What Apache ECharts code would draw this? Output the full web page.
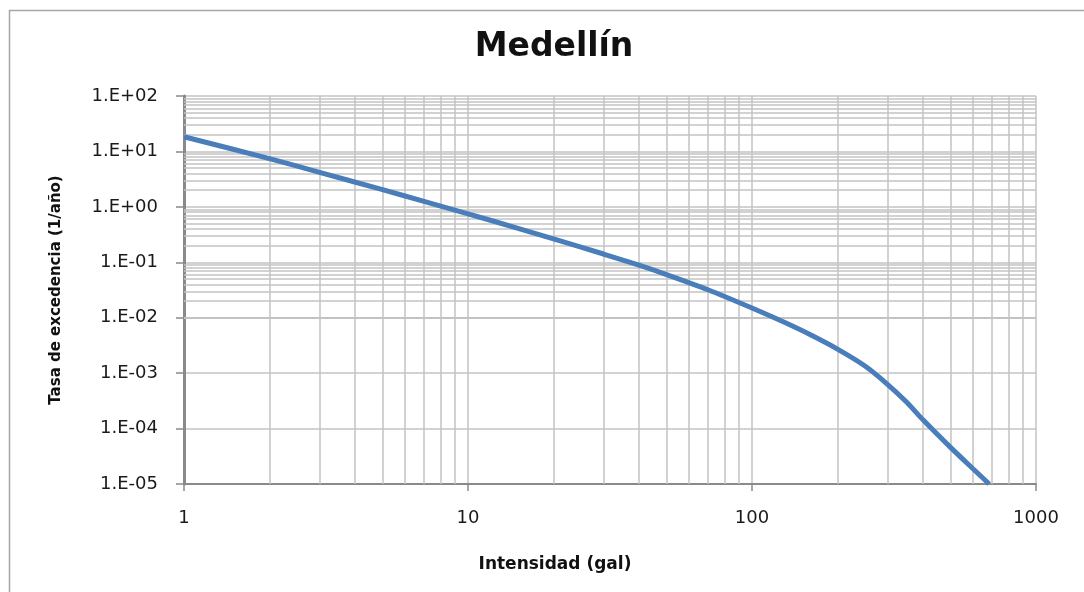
<!DOCTYPE html>
<html>
<head>
<meta charset="utf-8">
<script src="https://cdn.jsdelivr.net/npm/echarts@6/dist/echarts.min.js"></script>
<style>html,body{margin:0;padding:0;background:#fff}#c{width:1084px;height:592px}</style>
</head>
<body>
<div id="c"></div>
<script>
// Data (hazard curve)
const intensity = [1, 2, 3, 5, 7, 10, 15, 20, 30, 40, 50, 70, 100, 130, 160, 200, 250, 300, 350, 400, 500, 600, 684];
const rate = [18.4, 7.4, 4.2, 2.04, 1.256, 0.75, 0.41, 0.265, 0.141, 0.0885, 0.0600, 0.032, 0.01496, 0.00827, 0.00498, 0.00272, 0.001346, 0.00063, 0.000301, 0.000144, 0.0000458, 0.0000188, 0.00001];
const titleText = 'Medellín';
const xName = 'Intensidad (gal)';
const yName = 'Tasa de excedencia (1/año)';
const xMin = 1, xMax = 1000;
const yMin = 1e-5, yMax = 100;
const minorMultiples = [2, 3, 4, 5, 6, 7, 8, 9];

const FONT = 'DejaVu Sans';
const gridColor = '#c3c3c3';

// minor grid values (2..9 times each decade)
const xMinor = [];
for (let e = 0; e < 3; e++) minorMultiples.forEach(m => xMinor.push(Number((m * Math.pow(10, e)).toPrecision(3))));
const yMinor = [];
for (let e = -5; e < 2; e++) minorMultiples.forEach(m => yMinor.push(Number((m * Math.pow(10, e)).toPrecision(3))));

function fmtExp(v) {
  const e = Math.round(Math.log10(v));
  const s = e < 0 ? '-' : '+';
  const a = Math.abs(e);
  return '1.E' + s + (a < 10 ? '0' + a : '' + a);
}

const chart = echarts.init(document.getElementById('c'), null, {renderer: 'canvas'});
chart.setOption({
  animation: false,
  backgroundColor: '#ffffff',
  graphic: [{
    type: 'rect', left: 7, top: 8, shape: {width: 1200, height: 700},
    style: {fill: 'none', stroke: '#a6a6a6', lineWidth: 1.5}, silent: true, z: -10
  }],
  title: [{
    text: titleText, left: 549, top: 26, textAlign: 'center',
    textStyle: {fontFamily: FONT, fontSize: 33, fontWeight: 'bold', color: '#111'}
  }, {
    text: xName, left: 550, top: 551, textAlign: 'center',
    textStyle: {fontFamily: FONT, fontSize: 17, fontWeight: 'bold', color: '#111'}
  }],
  grid: {left: 184, right: 48, top: 96, bottom: 108, containLabel: false},
  xAxis: {
    type: 'log', logBase: 10, min: xMin, max: xMax, splitNumber: 3,
    axisLine: {show: true, lineStyle: {color: '#8a8a8a', width: 2}},
    axisTick: {show: true, length: 7, lineStyle: {color: '#8a8a8a', width: 1.5}},
    axisLabel: {fontFamily: FONT, fontSize: 18, color: '#1a1a1a', margin: 25, formatter: v => String(Math.round(v))},
    splitLine: {show: true, lineStyle: {color: gridColor, width: 1.5}},
    minorTick: {show: false}, minorSplitLine: {show: false}
  },
  yAxis: {
    type: 'log', logBase: 10, min: yMin, max: yMax, splitNumber: 7,
    name: yName, nameLocation: 'middle', nameGap: 120, nameRotate: 90,
    nameTextStyle: {fontFamily: FONT, fontSize: 15, fontWeight: 'bold', color: '#111'},
    axisLine: {show: true, lineStyle: {color: '#8a8a8a', width: 3}},
    axisTick: {show: true, length: 8, lineStyle: {color: '#8a8a8a', width: 1.5}},
    axisLabel: {fontFamily: FONT, fontSize: 18, color: '#1a1a1a', margin: 26, formatter: fmtExp},
    splitLine: {show: true, lineStyle: {color: gridColor, width: 1.5}},
    minorTick: {show: false}, minorSplitLine: {show: false}
  },
  series: [{
    type: 'line', data: [], z: 1, silent: true,
    markLine: {
      silent: true, symbol: 'none', animation: false,
      label: {show: false},
      lineStyle: {type: 'solid', color: gridColor, width: 1.5},
      emphasis: {disabled: true},
      data: xMinor.map(v => ({xAxis: v})).concat(yMinor.map(v => ({yAxis: v})))
    }
  }, {
    type: 'line', z: 5,
    data: intensity.map((x, i) => [x, rate[i]]),
    smooth: 0.25, showSymbol: false, symbol: 'none',
    lineStyle: {color: '#4a7ebb', width: 5},
    clip: true
  }]
});
</script>
</body>
</html>
